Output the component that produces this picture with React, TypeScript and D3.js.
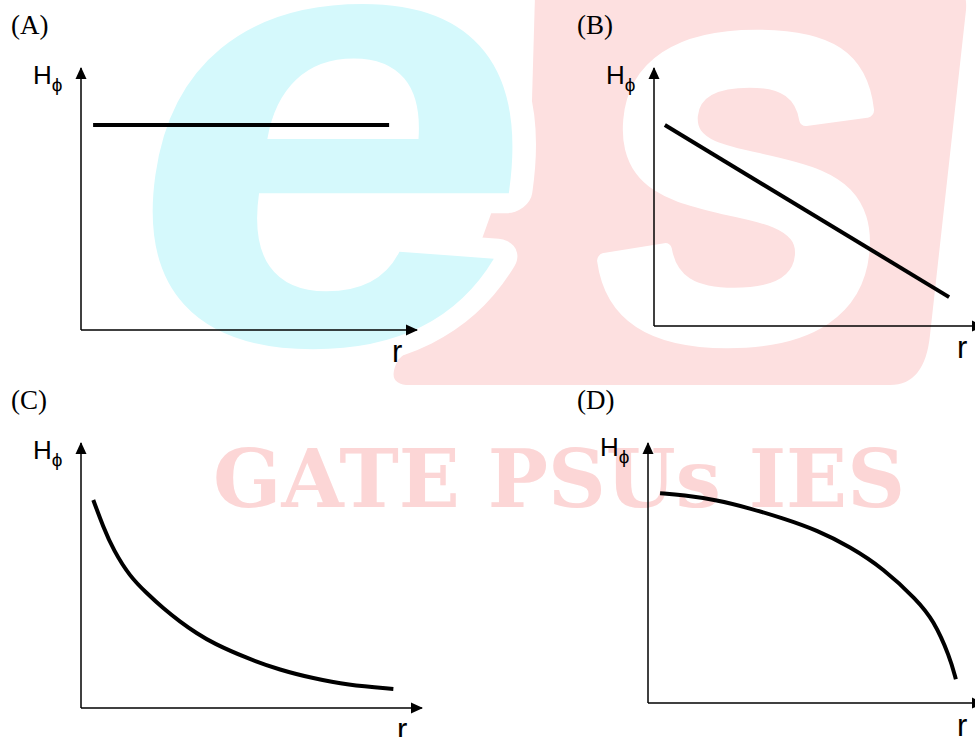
import React, { useEffect, useRef } from 'react';
import * as d3 from 'd3';

// panel captions and axis names
const panelLabels = ['(A)', '(B)', '(C)', '(D)'];
const yName = 'H';
const ySub = 'ϕ';
const xName = 'r';

// curves, in axis units (0..10 on both axes)
const rA = [0.36, 9.17];
const hA = [7.82, 7.82];

const rB = [0.33, 8.97];
const hB = [7.79, 1.12];

const rC = [0.36, 0.65, 0.95, 1.44, 1.93, 2.41, 2.90, 3.39, 3.88, 4.86, 5.84, 6.81, 7.79, 9.16];
const hC = [7.85, 6.84, 5.96, 4.95, 4.33, 3.76, 3.26, 2.82, 2.44, 1.88, 1.43, 1.12, 0.87, 0.72];

const rD = [0.36, 1.05, 2.05, 3.04, 4.04, 5.04, 6.03, 7.02, 8.03, 8.52, 9.01, 9.19];
const hD = [8.07, 8.00, 7.81, 7.49, 7.10, 6.65, 6.01, 5.18, 3.96, 3.19, 1.78, 0.91];

const watermarkText = 'GATE PSUs IES';

const W = 975;
const H = 737;

type Panel = {
  label: string;
  r: number[];
  h: number[];
  x0: number; x1: number; // pixel range of the r axis
  y0: number; y1: number; // pixel range of the H axis
  labelX: number; labelY: number;
  hX: number; hY: number;
  rX: number; rY: number;
};

const panels: Panel[] = [
  { label: panelLabels[0], r: rA, h: hA, x0: 81, x1: 417, y0: 330, y1: 68,
    labelX: 11, labelY: 34, hX: 33, hY: 84, rX: 392, rY: 362 },
  { label: panelLabels[1], r: rB, h: hB, x0: 654, x1: 983, y0: 326, y1: 68,
    labelX: 577, labelY: 34, hX: 606, hY: 84, rX: 957, rY: 358 },
  { label: panelLabels[2], r: rC, h: hC, x0: 81, x1: 422, y0: 708, y1: 443,
    labelX: 11, labelY: 409, hX: 33, hY: 459, rX: 397, rY: 740 },
  { label: panelLabels[3], r: rD, h: hD, x0: 648, x1: 983, y0: 703, y1: 443,
    labelX: 577, labelY: 409, hX: 600, hY: 456, rX: 957, rY: 736 },
];

const App = () => {
  const svgRef = useRef<SVGSVGElement>(null);

  useEffect(() => {
    const svg = d3.select(svgRef.current);
    svg.selectAll('*').remove();

    // arrow head for the axes
    svg.append('defs').append('marker')
      .attr('id', 'arrow')
      .attr('markerUnits', 'userSpaceOnUse')
      .attr('viewBox', '0 0 12 12')
      .attr('markerWidth', 12)
      .attr('markerHeight', 12)
      .attr('refX', 11)
      .attr('refY', 6)
      .attr('orient', 'auto')
      .append('path')
      .attr('d', 'M0,0.5 L12,6 L0,11.5 Z')
      .attr('fill', 'black');

    // watermark: pink block with white S, cyan e, red lettering
    const wm = svg.append('g');
    wm.append('path')
      .attr('d', 'M535,-5 L962,-5 Q967,-5 966,10 L930,335 Q925,385 890,385 L410,385 Q385,385 398,360 L460,300 L532,100 Z')
      .attr('fill', '#fde0e0');
    wm.append('text')
      .attr('transform', 'translate(585,337) skewX(-5)')
      .attr('font-family', 'Liberation Sans')
      .attr('font-weight', 'bold')
      .attr('font-size', 430)
      .attr('fill', 'white')
      .attr('stroke', 'white')
      .attr('stroke-width', 14)
      .attr('stroke-linejoin', 'round')
      .text('S');
    wm.append('text')
      .attr('transform', 'translate(103,343) skewX(-8) scale(1.17,1)')
      .attr('font-family', 'Liberation Sans')
      .attr('font-weight', 'bold')
      .attr('font-size', 630)
      .attr('fill', '#d5f9fc')
      .attr('stroke', 'white')
      .attr('stroke-width', 40)
      .attr('stroke-linejoin', 'round')
      .attr('paint-order', 'stroke')
      .text('e');
    wm.append('text')
      .attr('x', 213)
      .attr('y', 507)
      .attr('font-family', 'DejaVu Serif')
      .attr('font-weight', 'bold')
      .attr('font-size', 81)
      .attr('textLength', 692)
      .attr('lengthAdjust', 'spacingAndGlyphs')
      .attr('fill', '#fcd6d6')
      .text(watermarkText);

    panels.forEach(p => {
      const x = d3.scaleLinear().domain([0, 10]).range([p.x0, p.x1]);
      const y = d3.scaleLinear().domain([0, 10]).range([p.y0, p.y1]);
      const g = svg.append('g');

      // axes
      g.append('line')
        .attr('x1', x(0)).attr('y1', y(0))
        .attr('x2', x(0)).attr('y2', y(10))
        .attr('stroke', 'black').attr('stroke-width', 1.5)
        .attr('marker-end', 'url(#arrow)');
      g.append('line')
        .attr('x1', x(0)).attr('y1', y(0))
        .attr('x2', x(10)).attr('y2', y(0))
        .attr('stroke', 'black').attr('stroke-width', 1.5)
        .attr('marker-end', 'url(#arrow)');

      // curve (basis smooths out reading noise)
      const pts: [number, number][] = p.r.map((v, i) => [v, p.h[i]]);
      const line = d3.line<[number, number]>()
        .x(d => x(d[0]))
        .y(d => y(d[1]))
        .curve(d3.curveBasis);
      g.append('path')
        .attr('d', line(pts))
        .attr('fill', 'none')
        .attr('stroke', 'black')
        .attr('stroke-width', 4);

      // texts
      g.append('text')
        .attr('x', p.labelX).attr('y', p.labelY)
        .attr('font-family', 'Liberation Serif')
        .attr('font-size', 27)
        .text(p.label);
      const ht = g.append('text')
        .attr('x', p.hX).attr('y', p.hY)
        .attr('font-family', 'Liberation Sans')
        .attr('font-size', 26);
      ht.append('tspan').text(yName);
      ht.append('tspan')
        .attr('dy', 7)
        .attr('font-size', 19)
        .text(ySub);
      g.append('text')
        .attr('x', p.rX).attr('y', p.rY)
        .attr('font-family', 'Liberation Sans')
        .attr('font-size', 31)
        .text(xName);
    });
  }, []);

  return (
    <svg ref={svgRef} width={W} height={H}
      style={{ position: 'absolute', left: 0, top: 0, background: 'white' }} />
  );
};

export default App;
